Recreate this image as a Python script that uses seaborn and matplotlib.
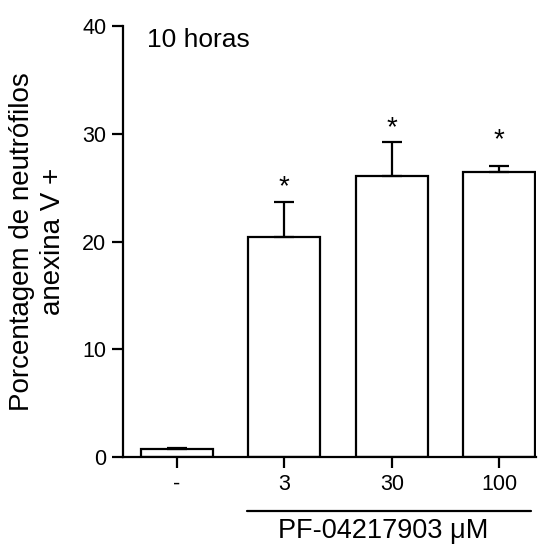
import matplotlib
matplotlib.use("Agg")
import matplotlib.pyplot as plt
import matplotlib.transforms as mtransforms
import seaborn as sns
import numpy as np

# Apoptotic neutrophils (annexin V+) after 10 h with PF-04217903
categories = ["-", "3", "30", "100"]
means = [0.7, 20.4, 26.1, 26.45]
sem = [0.15, 3.3, 3.1, 0.55]
significant = [False, True, True, True]
y_ticks = [0, 10, 20, 30, 40]

sns.set_style("ticks")
plt.rcParams["font.family"] = ["Liberation Sans", "DejaVu Sans"]
plt.rcParams["text.color"] = "black"
plt.rcParams["axes.labelcolor"] = "black"
plt.rcParams["xtick.color"] = "black"
plt.rcParams["ytick.color"] = "black"

fig = plt.figure(figsize=(5.48, 5.44), dpi=100)
ax = fig.add_axes([0.2245, 0.160, 0.7535, 0.792])

sns.barplot(x=categories, y=means, order=categories, color="white",
            edgecolor="black", linewidth=1.6, width=0.67, errorbar=None,
            saturation=1, ax=ax)

xs = np.arange(len(categories))
ax.errorbar(xs, means, yerr=[np.zeros(len(sem)), sem], fmt="none",
            ecolor="black", elinewidth=1.6, capsize=7, capthick=1.6, zorder=3)

star_pad = [1.3, 1.3, 1.3, 2.4]
for x, m, s, sig, pad in zip(xs, means, sem, significant, star_pad):
    if sig:
        ax.text(x, m + s + pad, "*", ha="center", va="center", fontsize=20,
                color="black")

ax.set_ylim(0, 40)
ax.set_xlim(-0.5, 3.34)
ax.set_yticks(y_ticks)
ax.tick_params(axis="both", labelsize=15.5, width=1.6, length=8,
               color="black", labelcolor="black", pad=4)
for side in ("left", "bottom"):
    ax.spines[side].set_linewidth(1.6)
    ax.spines[side].set_color("black")
sns.despine(ax=ax)

ax.set_xlabel("")
ax.set_ylabel("Porcentagem de neutrófilos\nanexina V +", fontsize=20,
              labelpad=12, linespacing=1.25, color="black")

ax.text(0.057, 0.967, "10 horas", transform=ax.transAxes, ha="left",
        va="center", fontsize=19, color="black")

# Bracket line grouping the drug concentrations
trans = mtransforms.blended_transform_factory(ax.transData, ax.transAxes)
ax.plot([0.65, 3.29], [-0.125, -0.125], color="black", lw=1.6,
        transform=trans, clip_on=False)
ax.text(1.92, -0.172, "PF-04217903 \u03bcM", transform=trans, ha="center",
        va="center", fontsize=19.5, color="black")

fig.savefig("out.png", dpi=100)
